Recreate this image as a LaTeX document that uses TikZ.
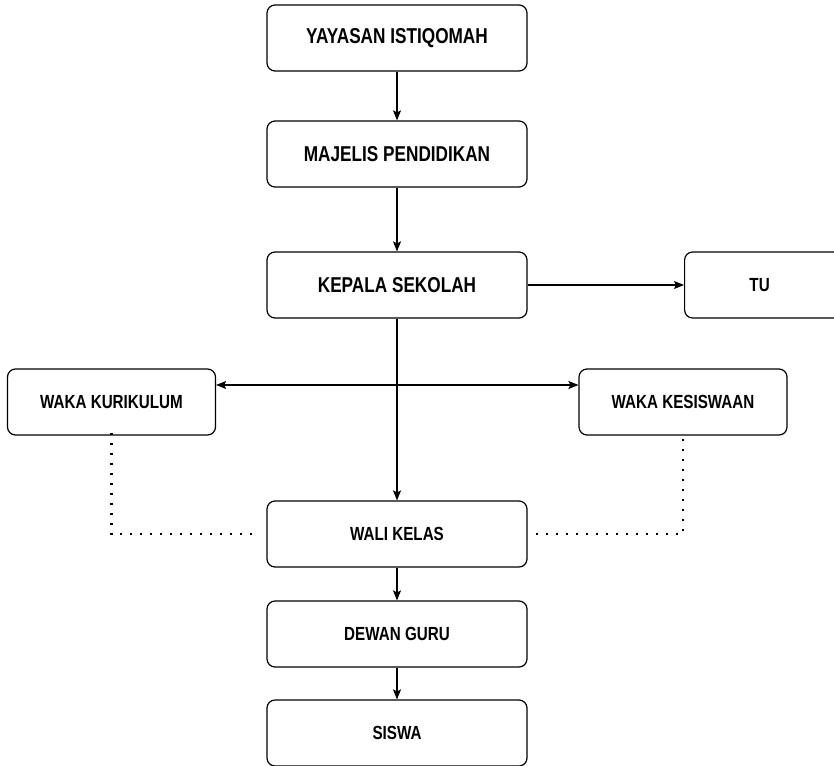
\documentclass[tikz,border=0pt]{standalone}
\usepackage{fontspec}
\setmainfont{Liberation Sans}[FakeStretch=0.8]
\usetikzlibrary{arrows.meta}
\usetikzlibrary{positioning}

\begin{document}
\begin{tikzpicture}[x=1pt,y=-1pt,
	box/.style={draw, line width=1.2pt, rounded corners=8pt, minimum width=260pt, minimum height=66pt, font=\fontsize{21.5}{24}\selectfont\bfseries},
	sidebox/.style={box, minimum width=208pt, font=\fontsize{19}{22}\selectfont\bfseries},
	lowbox/.style={box, font=\fontsize{19}{22}\selectfont\bfseries},
	arr/.style={-{Stealth[length=10pt,width=8pt,inset=2pt]}, line width=1.1pt},
	dots/.style={line width=2.2pt, dash pattern=on 2.2pt off 7.8pt}]
	\clip (0,0) rectangle (834,765);
	\node[box] (yayasan) at (397,38){YAYASAN ISTIQOMAH};%top
	\node[box] (majelis) at (397,154){MAJELIS PENDIDIKAN};
	\node[box] (kepala) at (397,285){KEPALA SEKOLAH};
	\node[sidebox, minimum width=200pt, anchor=west] (tu) at (684,285){\hspace*{-50pt}TU};
	\node[sidebox] (kurikulum) at (111.5,402){WAKA KURIKULUM};
	\node[sidebox] (kesiswaan) at (683,402){WAKA KESISWAAN};
	\node[lowbox] (wali) at (397,534){WALI KELAS};
	\node[lowbox] (dewan) at (397,634){DEWAN GURU};
	\node[lowbox] (siswa) at (397,733){SISWA};
	\coordinate (branch) at (397,385);
	\draw[arr] (yayasan) -- (majelis);
	\draw[arr] (majelis) -- (kepala);
	\draw[arr] (kepala) -- (tu);
	\draw[arr] (kepala) -- (wali);
	\draw[arr] (branch) -- (branch -| kurikulum.east);
	\draw[arr] (branch) -- (branch -| kesiswaan.west);
	\draw[arr] (wali) -- (dewan);
	\draw[arr] (dewan) -- (siswa);
	\draw[dots] ([yshift=3pt]kurikulum.south) |- ([xshift=-8pt]wali.west);
	\draw[dots] ([xshift=8pt]wali.east) -| ([yshift=3pt]kesiswaan.south);
\end{tikzpicture}
\end{document}
